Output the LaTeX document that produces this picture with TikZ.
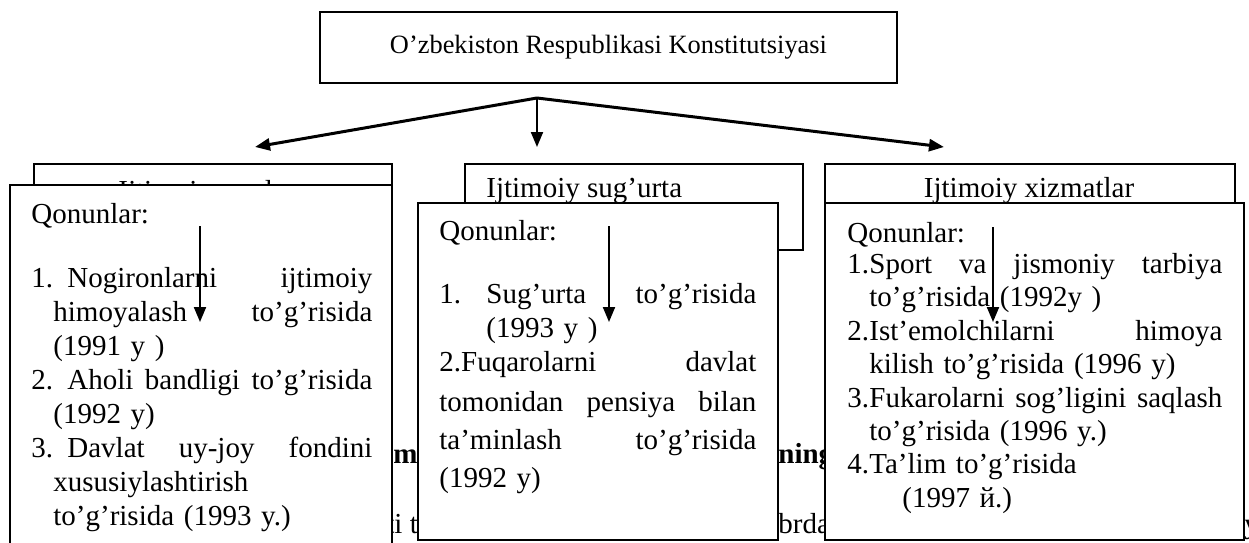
\documentclass[tikz,border=0pt]{standalone}
\usepackage{fontspec}
\setmainfont{Liberation Serif}
\usetikzlibrary{arrows.meta}
\tikzset{
  box/.style={draw, line width=1pt, inner sep=0pt, anchor=north west},
  frontbox/.style={box, fill=white},
  sarlavha/.style={inner sep=0pt, font=\fontsize{14.5}{17}\selectfont},
  lawtext/.style={inner sep=0pt, anchor=north west, align=left,
    font=\fontsize{14.5}{17}\selectfont},
  fon/.style={inner sep=0pt, anchor=base west, font=\fontsize{14.5}{17}\selectfont},
  strelka/.style={line width=1pt, -{Triangle[length=7.5pt,width=6pt]}},
}

\begin{document}
\begin{tikzpicture}[x=0.5pt, y=-0.5pt]
      \useasboundingbox (0,0) rectangle (1249,542);
      \clip (0,0) rectangle (1249,542);
      % top
      \node[draw, line width=1pt, minimum width=288.5pt, minimum height=35.5pt,
        font=\fontsize{13.2}{16}\selectfont] (konstitutsiya) at (608.5,47.5)
        {O’zbekiston Respublikasi Konstitutsiyasi};
      % back boxes
      \node[box, minimum width=179pt, minimum height=70pt] (yordam) at (33,163) {};
      \node[box, minimum width=169pt, minimum height=43pt] (sugurta) at (464,163) {};
      \node[box, minimum width=205pt, minimum height=30pt] (xizmat) at (824,163) {};
      \node[sarlavha, anchor=base] (yordamT) at (213,200) {Ijtimoiy yordam};
      \node[sarlavha, anchor=base west] (sugurtaT) at (486,197) {Ijtimoiy sug’urta};
      \node[sarlavha, anchor=base] (xizmatT) at (1029,197) {Ijtimoiy xizmatlar};
      % page text behind
      \node[fon, font=\fontsize{14.5}{17}\selectfont\bfseries] (fon1) at (393,463) {m};
      \node[fon, font=\fontsize{14.5}{17}\selectfont\bfseries] (fon2) at (778,463) {ning};
      \node[fon] (fon3) at (386,533) {ti t};
      \node[fon] (fon4) at (778,533) {brda};
      \node[fon] (fon5) at (1244,533) {y};
      % front boxes
      \node[frontbox, minimum width=191pt, minimum height=190pt] (qonun1) at (9,184) {};
      \node[frontbox, minimum width=180pt, minimum height=168.5pt] (qonun2) at (417,202) {};
      \node[frontbox, minimum width=209.5pt, minimum height=168.5pt] (qonun3) at (824,202) {};
      \node[lawtext, text width=170.5pt] (royxat1) at (31,203) {Qonunlar:\\[15pt]
        \makebox[18pt][l]{1.}Nogironlarni\hfill ijtimoiy\\
        \hspace*{11pt}himoyalash\hfill to’g’risida\\
        \hspace*{11pt}(1991 y )\\
        \makebox[18pt][l]{2.}Aholi\hfill bandligi\hfill to’g’risida\\
        \hspace*{11pt}(1992 y)\\
        \makebox[18pt][l]{3.}Davlat\hfill uy-joy\hfill fondini\\
        \hspace*{11pt}xususiylashtirish\\
        \hspace*{11pt}to’g’risida (1993 y.)};
      \node[lawtext, text width=158.5pt] (royxat2) at (439,220) {Qonunlar:\\[14.5pt]
        \makebox[23.5pt][l]{1.}Sug’urta\hfill to’g’risida\\
        \hspace*{23.5pt}(1993 y )\\
        2.Fuqarolarni\hfill davlat\\[3pt]
        tomonidan\hfill pensiya\hfill bilan\\[2pt]
        ta’minlash\hfill to’g’risida\\[2pt]
        (1992 y)};
      \node[lawtext, text width=187.5pt, font=\fontsize{14.5}{16.7}\selectfont]
        (royxat3) at (847,222) {Qonunlar:\\[-1.2pt]
        \makebox[11pt][l]{1.}Sport\hfill va\hfill jismoniy\hfill tarbiya\\
        \hspace*{11pt}to’g’risida (1992y )\\
        \makebox[11pt][l]{2.}Ist’emolchilarni\hfill himoya\\
        \hspace*{11pt}kilish to’g’risida (1996 y)\\
        \makebox[11pt][l]{3.}Fukarolarni\hfill sog’ligini\hfill saqlash\\
        \hspace*{11pt}to’g’risida (1996 y.)\\
        \makebox[11pt][l]{4.}Ta’lim to’g’risida\\
        \hspace*{27.5pt}(1997 й.)};
      % arrow ends
      \coordinate (razvilka) at (537,98);
      \coordinate (chap) at (255,147);
      \coordinate (orta) at (537,147);
      \coordinate (ong) at (944,147);
      \coordinate (ichki1a) at (200,226);
      \coordinate (ichki1b) at (200,322);
      \coordinate (ichki2a) at (609,226);
      \coordinate (ichki2b) at (609,322);
      \coordinate (ichki3a) at (993,227);
      \coordinate (ichki3b) at (993,322);
      \begin{scope}[strelka]
        \draw[line width=1.5pt] (razvilka) -- (chap);
        \draw (razvilka) -- (orta);
        \draw[line width=1.5pt] (razvilka) -- (ong);
        \draw (ichki1a) -- (ichki1b);
        \draw (ichki2a) -- (ichki2b);
        \draw (ichki3a) -- (ichki3b);
      \end{scope}
    \end{tikzpicture}
\end{document}
